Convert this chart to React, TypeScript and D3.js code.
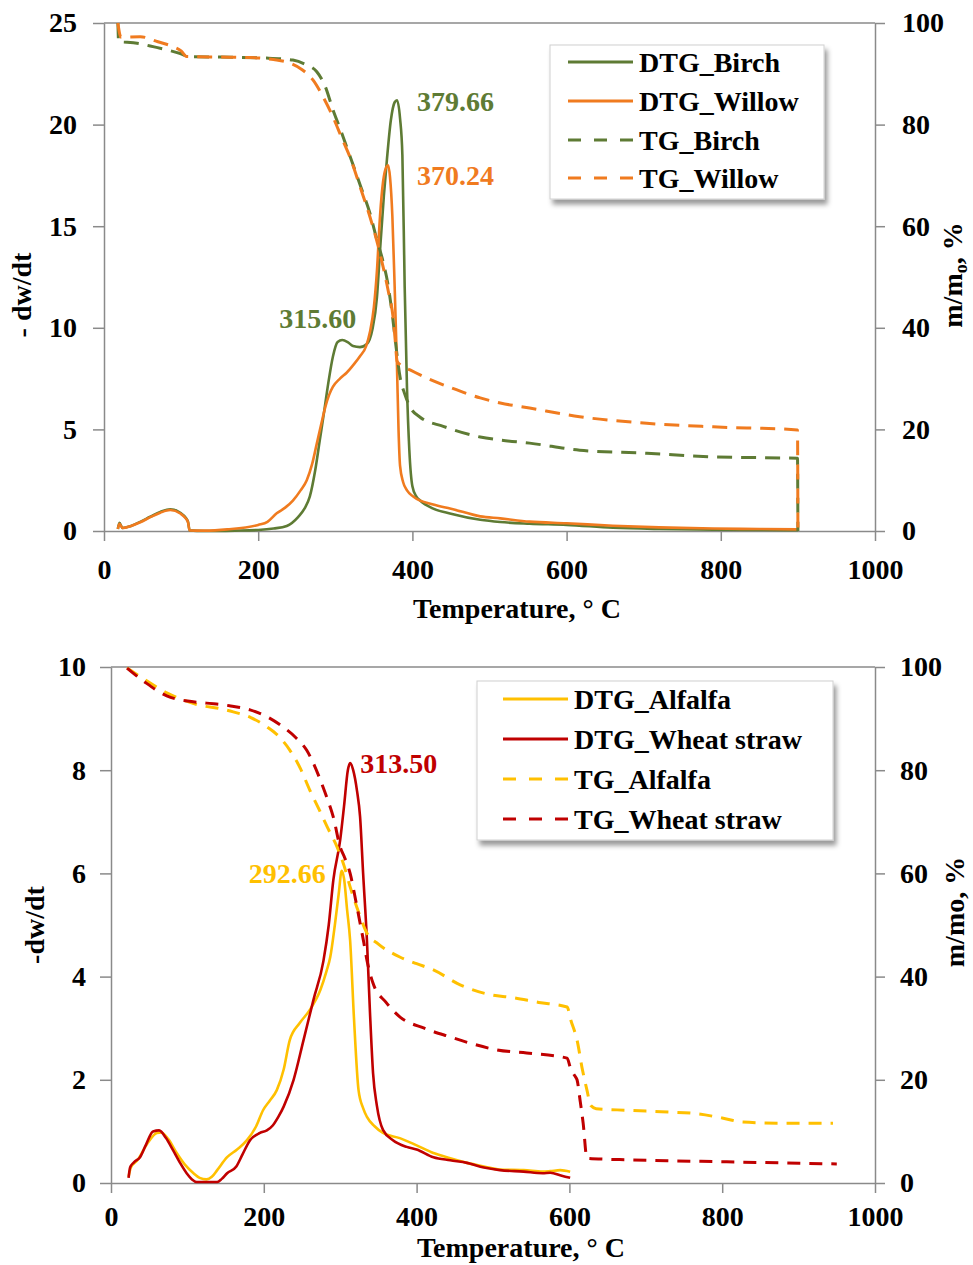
import React, { useRef, useEffect } from 'react';
import * as d3 from 'd3';

type Pt = [number, number];

const W = 973;
const H = 1265;
const FONT = '"Liberation Serif", "Times New Roman", serif';
const AXIS = '#8a8a8a';

const GREEN = '#5E7B34';
const ORANGE = '#F07B1F';
const YELLOW = '#FFC000';
const RED = '#C00000';

// shared ticks
const tempTicks = [0, 200, 400, 600, 800, 1000];
const massTicks = [0, 20, 40, 60, 80, 100];
const topRateTicks = [0, 5, 10, 15, 20, 25];
const bottomRateTicks = [0, 2, 4, 6, 8, 10];

// top panel: birch / willow  [temperature °C, -dw/dt]
const dtgBirch: Pt[] = [
  [18, 0.1], [20, 0.4], [24, 0.15], [35, 0.25], [47, 0.45], [60, 0.7], [73, 0.94], [86, 1.07],
  [99, 0.9], [106, 0.65], [109, 0.45], [111, 0.03], [130, 0], [170, 0.02], [200, 0.05], [220, 0.12],
  [237, 0.25], [252, 0.7], [260, 1.1], [267, 1.7], [274, 3.0], [280, 4.5], [286, 6.0], [291, 7.3],
  [297, 8.6], [303, 9.3], [309, 9.4], [316, 9.3], [323, 9.1], [332, 9.05], [341, 9.2], [348, 9.9],
  [354, 11.5], [358, 13.8], [363, 16.5], [367, 18.3], [372, 20.2], [377, 21.1], [380, 21.2],
  [384, 20.3], [387, 18.5], [390, 12.0], [393, 7.0], [396, 4.0], [400, 2.2], [405, 1.7], [410, 1.5],
  [427, 1.1], [450, 0.85], [488, 0.55], [514, 0.44], [552, 0.36], [600, 0.3], [660, 0.16],
  [720, 0.1], [790, 0.07], [850, 0.05], [900, 0.04],
];
const dtgWillow: Pt[] = [
  [18, 0.1], [20, 0.35], [24, 0.15], [35, 0.25], [47, 0.43], [60, 0.68], [73, 0.9], [86, 1.03],
  [99, 0.86], [106, 0.62], [109, 0.42], [111, 0.03], [130, 0.02], [160, 0.08], [200, 0.3],
  [212, 0.45], [224, 0.87], [235, 1.15], [245, 1.5], [255, 2.0], [263, 2.5], [270, 3.3], [276, 4.3],
  [282, 5.3], [287, 6.1], [292, 6.7], [297, 7.1], [306, 7.5], [315, 7.8], [324, 8.2], [332, 8.6],
  [340, 9.1], [345, 9.8], [350, 11.0], [354, 12.8], [358, 15.5], [362, 17.2], [366, 17.9],
  [368.5, 18.0], [371, 17.4], [374, 15.5], [377, 12.0], [380, 8.1], [382, 5.0],
  [384, 3.2], [388, 2.4], [393, 2.0], [401, 1.7], [427, 1.3], [450, 1.1], [488, 0.72], [514, 0.62],
  [552, 0.46], [600, 0.38], [660, 0.26], [720, 0.18], [790, 0.12], [850, 0.1], [900, 0.08],
];
// [temperature °C, m/m0 %]
const tgBirch: Pt[] = [
  [18, 100], [19, 96.3], [30, 96.2], [47, 95.9], [65, 95.3], [82, 94.7], [99, 94.0], [110, 93.4],
  [150, 93.3], [211, 93.1], [245, 92.7], [262, 91.8], [276, 90.4], [287, 87.5], [297, 82.9],
  [308, 78.5], [319, 73.8], [332, 68.2], [345, 62.5], [354, 57.3], [362, 53.0], [368, 48.8],
  [374, 42.5], [379, 36.0], [384, 30.3], [390, 27.0], [397, 24.4], [410, 22.4], [440, 20.6],
  [488, 18.5], [514, 17.9], [552, 17.3], [617, 15.9], [704, 15.3], [790, 14.6], [899.5, 14.3],
  [900, 0],
];
const tgWillow: Pt[] = [
  [18, 100], [22, 97.2], [47, 97.3], [70, 96.3], [90, 95.3], [100, 94.5], [107, 93.4], [150, 93.3],
  [190, 93.2], [220, 92.8], [241, 92.1], [257, 90.8], [271, 88.8], [284, 85.5], [297, 81.5],
  [308, 77.5], [319, 73.6], [332, 67.8], [345, 61.8], [354, 57.0], [362, 52.0], [369, 47.0],
  [375, 42.0], [378, 37.0], [380, 33.5], [385, 32.6], [397, 31.7], [420, 30.0], [450, 28.2],
  [488, 26.2], [514, 25.2], [552, 24.2], [617, 22.5], [704, 21.2], [790, 20.5], [899.5, 19.9],
  [900, 0],
];

// bottom panel: alfalfa / wheat straw
const dtgAlfalfa: Pt[] = [
  [23, 0.12], [26, 0.3], [35, 0.45], [47, 0.75], [60, 0.97], [66, 0.98], [75, 0.85], [86, 0.58],
  [97, 0.35], [108, 0.19], [116, 0.1], [125, 0.07], [132, 0.12], [139, 0.25], [152, 0.5],
  [165, 0.65], [178, 0.83], [190, 1.1], [199, 1.41], [208, 1.6], [217, 1.8], [226, 2.2],
  [234, 2.77], [247, 3.1], [260, 3.35], [274, 3.74], [282, 4.1], [287, 4.38], [293, 5.0],
  [298, 5.6], [302, 6.05], [305, 5.9], [309, 5.3], [313, 4.7], [318, 3.2], [324, 1.8], [330, 1.45],
  [335, 1.28], [345, 1.1], [356, 0.97], [378, 0.87], [400, 0.73], [422, 0.58], [444, 0.48],
  [466, 0.39], [488, 0.32], [509, 0.26], [540, 0.25], [565, 0.22], [575, 0.23], [588, 0.25],
  [601, 0.22],
];
const dtgWheat: Pt[] = [
  [23, 0.1], [25, 0.3], [30, 0.4], [38, 0.5], [46, 0.75], [55, 1.0], [63, 1.02], [72, 0.87],
  [81, 0.64], [90, 0.4], [99, 0.19], [106, 0.07], [112, 0.02], [125, 0.02], [139, 0.02], [145, 0.08],
  [152, 0.19], [164, 0.32], [172, 0.55], [182, 0.83], [195, 0.97], [204, 1.02], [212, 1.12],
  [219, 1.28], [226, 1.48], [239, 2.0], [252, 2.77], [265, 3.55], [278, 4.3], [285, 5.0],
  [291, 5.87], [300, 6.65], [305, 7.3], [310, 8.0], [313, 8.14], [317, 8.0], [322, 7.6], [326, 7.1],
  [330, 6.0], [335, 4.7], [339, 3.3], [343, 2.13], [348, 1.5], [356, 1.03], [369, 0.83], [387, 0.7],
  [400, 0.65], [422, 0.5], [444, 0.44], [466, 0.39], [488, 0.3], [509, 0.25], [540, 0.22],
  [565, 0.19], [575, 0.2], [590, 0.14], [601, 0.1],
];
const tgAlfalfa: Pt[] = [
  [21, 99.8], [45, 97.5], [73, 95], [95, 93.6], [116, 92.6], [140, 92], [160, 91.3], [183, 90.2],
  [204, 88.4], [220, 86.5], [234, 83.9], [248, 80.3], [260, 76.2], [272, 72.5], [283, 69],
  [296, 65.1], [305, 61.5], [313, 57.4], [324, 52.5], [335, 48.4], [350, 46.3], [378, 43.8],
  [400, 42.5], [422, 41.3], [457, 38.4], [500, 36.4], [522, 36], [560, 35], [597, 34.1],
  [602, 31.5], [610, 27.7], [617, 22], [623, 18], [628, 15], [635, 14.4], [675, 14.1], [720, 13.8],
  [762, 13.5], [800, 12.6], [827, 11.8], [872, 11.6], [945, 11.6],
];
const tgWheat: Pt[] = [
  [21, 99.8], [45, 97], [73, 94.4], [100, 93.4], [125, 93], [155, 92.5], [182, 91.7], [205, 90.3],
  [225, 88.4], [242, 86.3], [256, 83.9], [266, 81], [274, 78.1], [283, 74.5], [291, 70.9],
  [300, 65.1], [306, 63], [313, 60], [320, 55], [326, 50.4], [331, 46.5], [335, 43.2], [343, 38.7],
  [360, 35], [378, 32.2], [410, 30], [444, 28.3], [470, 27.1], [505, 25.8], [544, 25.2],
  [597, 24.2], [601, 22.5], [606, 21], [610, 20], [614, 16], [618, 11.6], [623, 4.8], [650, 4.6],
  [675, 4.5], [806, 4.1], [950, 3.7],
];

const topLegend = ['DTG_Birch', 'DTG_Willow', 'TG_Birch', 'TG_Willow'];
const bottomLegend = ['DTG_Alfalfa', 'DTG_Wheat straw', 'TG_Alfalfa', 'TG_Wheat straw'];

type Series = { name: string; data: Pt[]; color: string; tg: boolean };
type Note = { text: string; at: Pt; color: string; dx: number; dy: number; anchor: string };

type Panel = {
  left: number; right: number; top: number; bottom: number;
  rateMax: number; rateTicks: number[];
  series: Series[]; notes: Note[];
  legend: { x: number; y: number; w: number; h: number; rows: number[]; lineX: number };
  xPad: number; lPad: number; rPad: number;
  yTitle: { x: number; y: number; text: string };
  mTitle: { x: number; y: number; sub: string };
  tTitle: { x: number; y: number };
  dash: string;
};

const panels: Panel[] = [
  {
    left: 104, right: 875, top: 23, bottom: 531,
    rateMax: 25, rateTicks: topRateTicks,
    series: [
      { name: topLegend[0], data: dtgBirch, color: GREEN, tg: false },
      { name: topLegend[1], data: dtgWillow, color: ORANGE, tg: false },
      { name: topLegend[2], data: tgBirch, color: GREEN, tg: true },
      { name: topLegend[3], data: tgWillow, color: ORANGE, tg: true },
    ],
    notes: [
      { text: '379.66', at: [380, 21.2], color: GREEN, dx: 20, dy: 1, anchor: 'start' },
      { text: '370.24', at: [368.5, 18.0], color: ORANGE, dx: 29, dy: 10, anchor: 'start' },
      { text: '315.60', at: [309, 9.4], color: GREEN, dx: 14, dy: -22, anchor: 'end' },
    ],
    legend: { x: 550, y: 45, w: 274, h: 154, rows: [62, 101, 140, 178], lineX: 568 },
    xPad: 18, lPad: 16, rPad: 17,
    yTitle: { x: 31, y: 295, text: '- dw/dt' },
    mTitle: { x: 962, y: 275, sub: 'o' },
    tTitle: { x: 517, y: 618 },
    dash: '15,9',
  },
  {
    left: 111, right: 875, top: 667, bottom: 1183,
    rateMax: 10, rateTicks: bottomRateTicks,
    series: [
      { name: bottomLegend[0], data: dtgAlfalfa, color: YELLOW, tg: false },
      { name: bottomLegend[1], data: dtgWheat, color: RED, tg: false },
      { name: bottomLegend[2], data: tgAlfalfa, color: YELLOW, tg: true },
      { name: bottomLegend[3], data: tgWheat, color: RED, tg: true },
    ],
    notes: [
      { text: '313.50', at: [313, 8.14], color: RED, dx: 10, dy: 0, anchor: 'start' },
      { text: '292.66', at: [302, 6.05], color: YELLOW, dx: -16, dy: 2, anchor: 'end' },
    ],
    legend: { x: 477, y: 681, w: 356, h: 159, rows: [699, 739, 779, 819], lineX: 503 },
    xPad: 13, lPad: 14, rPad: 15,
    yTitle: { x: 44, y: 925, text: '-dw/dt' },
    mTitle: { x: 964, y: 912, sub: '' },
    tTitle: { x: 521, y: 1257 },
    dash: '13,9',
  },
];

function styleAxis(g: any) {
  g.attr('font-family', FONT).attr('font-size', 28).attr('font-weight', 'bold');
  g.select('.domain').attr('stroke', AXIS).attr('stroke-width', 1.5);
  g.selectAll('.tick line').attr('stroke', AXIS).attr('stroke-width', 1.5);
  g.selectAll('.tick text').attr('fill', '#000');
}

function drawPanel(svg: any, p: Panel) {
  const g = svg.append('g');
  const x = d3.scaleLinear().domain([0, 1000]).range([p.left, p.right]);
  const yRate = d3.scaleLinear().domain([0, p.rateMax]).range([p.bottom, p.top]);
  const yMass = d3.scaleLinear().domain([0, 100]).range([p.bottom, p.top]);
  const fmt = d3.format('d');

  g.append('line')
    .attr('x1', p.left).attr('x2', p.right).attr('y1', p.top).attr('y2', p.top)
    .attr('stroke', AXIS).attr('stroke-width', 1.5);

  g.append('g').attr('transform', `translate(0,${p.bottom})`)
    .call(d3.axisBottom(x).tickValues(tempTicks).tickFormat(fmt).tickSize(10).tickSizeOuter(0).tickPadding(p.xPad))
    .call(styleAxis);
  g.append('g').attr('transform', `translate(${p.left},0)`)
    .call(d3.axisLeft(yRate).tickValues(p.rateTicks).tickFormat(fmt).tickSize(11).tickSizeOuter(0).tickPadding(p.lPad))
    .call(styleAxis);
  g.append('g').attr('transform', `translate(${p.right},0)`)
    .call(d3.axisRight(yMass).tickValues(massTicks).tickFormat(fmt).tickSize(10).tickSizeOuter(0).tickPadding(p.rPad))
    .call(styleAxis);

  p.series.forEach((s) => {
    const y = s.tg ? yMass : yRate;
    const line = d3.line<Pt>().x((d) => x(d[0])).y((d) => y(d[1])).curve(d3.curveMonotoneX);
    g.append('path')
      .attr('d', line(s.data))
      .attr('fill', 'none')
      .attr('stroke', s.color)
      .attr('stroke-width', s.tg ? 3 : 2.6)
      .attr('stroke-linejoin', 'round')
      .attr('stroke-dasharray', s.tg ? p.dash : null);
  });

  p.notes.forEach((n) => {
    g.append('text')
      .attr('x', x(n.at[0]) + n.dx)
      .attr('y', yRate(n.at[1]) + n.dy)
      .attr('dy', '0.35em')
      .attr('text-anchor', n.anchor)
      .attr('font-family', FONT).attr('font-size', 28).attr('font-weight', 'bold')
      .attr('fill', n.color)
      .text(n.text);
  });

  // legend
  const L = p.legend;
  g.append('rect')
    .attr('x', L.x).attr('y', L.y).attr('width', L.w).attr('height', L.h)
    .attr('fill', '#fff').attr('stroke', '#d0d0d0').attr('stroke-width', 1)
    .attr('filter', 'url(#shadow)');
  p.series.forEach((s, i) => {
    const cy = L.rows[i];
    g.append('line')
      .attr('x1', L.lineX).attr('x2', L.lineX + 65).attr('y1', cy).attr('y2', cy)
      .attr('stroke', s.color).attr('stroke-width', 3)
      .attr('stroke-dasharray', s.tg ? '13,13' : null);
    g.append('text')
      .attr('x', L.lineX + 71).attr('y', cy).attr('dy', '0.35em')
      .attr('font-family', FONT).attr('font-size', 28).attr('font-weight', 'bold')
      .text(s.name);
  });

  // axis titles
  g.append('text')
    .attr('transform', `translate(${p.yTitle.x},${p.yTitle.y}) rotate(-90)`)
    .attr('text-anchor', 'middle')
    .attr('font-family', FONT).attr('font-size', 28).attr('font-weight', 'bold')
    .text(p.yTitle.text);

  const mt = g.append('text')
    .attr('transform', `translate(${p.mTitle.x},${p.mTitle.y}) rotate(-90)`)
    .attr('text-anchor', 'middle')
    .attr('font-family', FONT).attr('font-size', 28).attr('font-weight', 'bold');
  if (p.mTitle.sub) {
    mt.append('tspan').text('m/m');
    mt.append('tspan').attr('font-size', 18).attr('dy', 5).text(p.mTitle.sub);
    mt.append('tspan').attr('dy', -5).text(',  %');
  } else {
    mt.text('m/mo,  %');
  }

  g.append('text')
    .attr('x', p.tTitle.x).attr('y', p.tTitle.y)
    .attr('text-anchor', 'middle')
    .attr('font-family', FONT).attr('font-size', 28).attr('font-weight', 'bold')
    .text('Temperature,  \u00B0 C');
}

const App = () => {
  const svgRef = useRef<SVGSVGElement>(null);

  useEffect(() => {
    const svg = d3.select(svgRef.current);
    svg.selectAll('*').remove();
    svg.append('defs').append('filter').attr('id', 'shadow')
      .attr('x', '-10%').attr('y', '-10%').attr('width', '130%').attr('height', '130%')
      .append('feDropShadow')
      .attr('dx', 3).attr('dy', 5).attr('stdDeviation', 2.5)
      .attr('flood-color', '#000').attr('flood-opacity', 0.4);
    panels.forEach((p) => drawPanel(svg, p));
  }, []);

  return (
    <svg
      ref={svgRef}
      width={W}
      height={H}
      style={{ position: 'absolute', left: 0, top: 0, background: '#fff' }}
    />
  );
};

export default App;
